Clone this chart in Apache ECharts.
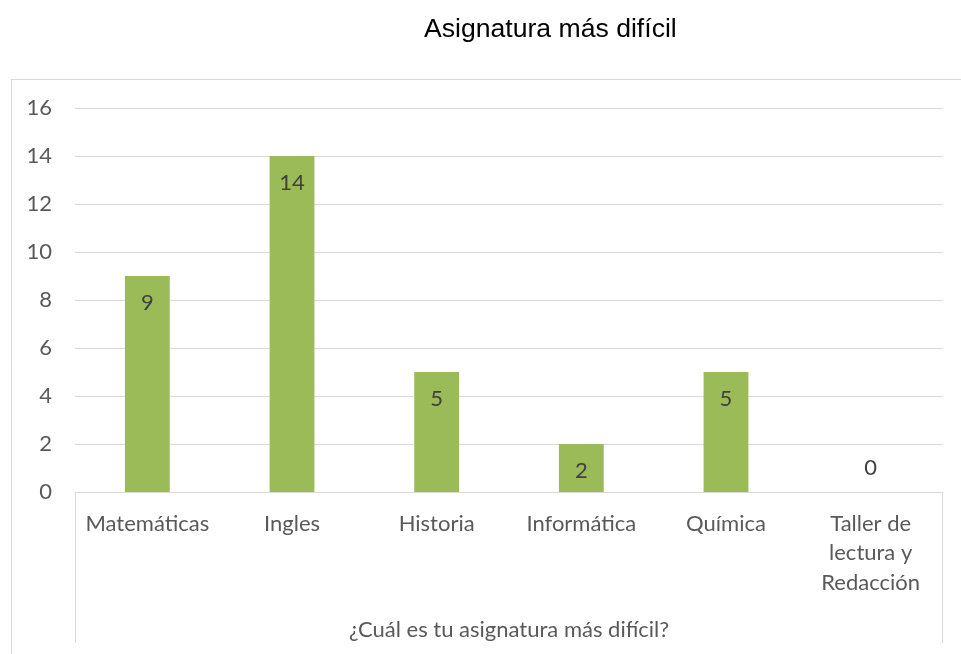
<!DOCTYPE html>
<html><head><meta charset="utf-8">
<script src="https://cdn.jsdelivr.net/npm/echarts@6/dist/echarts.min.js"></script>
<style>html,body{margin:0;padding:0;background:#fff}#c{width:961px;height:654px}</style>
</head><body><div id="c"></div>
<script>
const categories = ['Matemáticas', 'Ingles', 'Historia', 'Informática', 'Química', 'Taller de\nlectura y\nRedacción'];
const values = [9, 14, 5, 2, 5, 0];
const yTicks = [0, 2, 4, 6, 8, 10, 12, 14, 16];

const G = {left: 75, right: 18, top: 108, bottom: 162};
const W = 961, H = 654;
const font = 'Lato, "Open Sans", sans-serif';
const fs = 22;
const gray = '#595959';
const lineC = '#d9d9d9';

const chart = echarts.init(document.getElementById('c'));
chart.setOption({
  animation: false,
  title: {
    text: 'Asignatura más difícil',
    left: 419, top: 11,
    textStyle: {fontFamily: 'Liberation Sans, Arial', fontSize: 26.6, fontWeight: 'normal', color: '#000'}
  },
  grid: {left: G.left, right: G.right, top: G.top, bottom: G.bottom, containLabel: false},
  xAxis: {
    type: 'category', data: categories,
    name: '¿Cuál es tu asignatura más difícil?', nameLocation: 'middle', nameGap: 127,
    nameTextStyle: {fontFamily: font, fontSize: fs, color: gray},
    axisLine: {lineStyle: {color: lineC, width: 1}},
    axisTick: {show: false},
    axisLabel: {fontFamily: font, fontSize: fs, color: gray, margin: 17, lineHeight: 29.5, interval: 0}
  },
  yAxis: {
    type: 'value', min: yTicks[0], max: yTicks[yTicks.length - 1], interval: 2,
    axisLine: {show: false}, axisTick: {show: false},
    splitLine: {lineStyle: {color: lineC, width: 1}},
    axisLabel: {fontFamily: font, fontSize: fs, color: gray, margin: 23}
  },
  series: [{
    type: 'bar',
    data: values.map(v => v === 0
      ? {value: v, label: {position: 'top', distance: 13}}
      : {value: v}),
    barWidth: '31%',
    itemStyle: {color: '#9bbb59'},
    label: {show: true, position: 'insideTop', distance: 16, fontFamily: font, fontSize: fs, color: '#404040'}
  }],
  graphic: [
    {type: 'line', shape: {x1: 11, y1: 79.5, x2: W, y2: 79.5}, style: {stroke: lineC, lineWidth: 1}},
    {type: 'line', shape: {x1: 11.5, y1: 79, x2: 11.5, y2: H}, style: {stroke: lineC, lineWidth: 1}},
    {type: 'line', shape: {x1: G.left + 0.5, y1: H - G.bottom, x2: G.left + 0.5, y2: 643}, style: {stroke: lineC, lineWidth: 1}},
    {type: 'line', shape: {x1: W - G.right - 0.5, y1: H - G.bottom, x2: W - G.right - 0.5, y2: 643}, style: {stroke: lineC, lineWidth: 1}}
  ]
});
</script></body></html>
